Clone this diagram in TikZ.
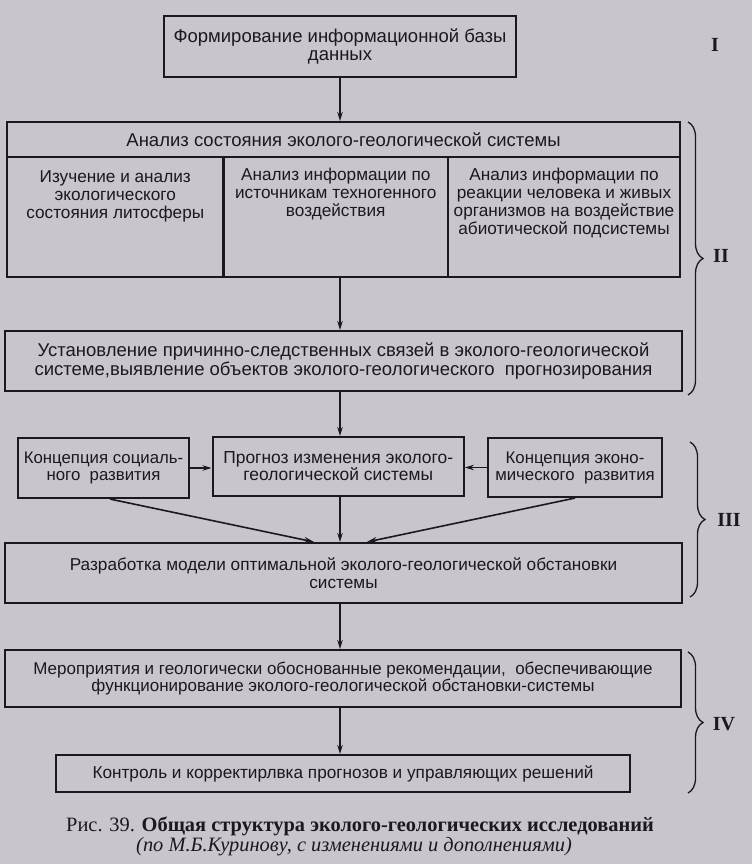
\documentclass[tikz,border=0pt]{standalone}
\usepackage{fontspec}
\setmainfont{Liberation Sans}
\newfontfamily\capfont{Liberation Serif}
\usetikzlibrary{arrows.meta,decorations.pathreplacing,calc}
\definecolor{bg}{RGB}{201,197,205}
\definecolor{ink}{RGB}{28,24,32}
\begin{document}
\begin{tikzpicture}[x=1pt,y=-1pt,
  box/.style={draw=ink,line width=2.1pt,inner sep=0pt,fill=bg},
  txt/.style={align=center,font=\fontsize{18.5}{18.3}\selectfont,text=ink,inner sep=0pt},
  stxt/.style={txt,font=\fontsize{17.2}{17.8}\selectfont},
  ttxt/.style={txt,font=\fontsize{16.8}{17}\selectfont},
  arr/.style={draw=ink,line width=1.2pt,-{Stealth[length=9pt,width=5.5pt]}},
  darr/.style={draw=ink,line width=1.6pt,-{Stealth[length=10pt,width=6pt]}},
  brc/.style={draw=ink,line width=1.3pt,decorate,decoration={brace,amplitude=15pt}},
  roman/.style={font=\capfont\bfseries\fontsize{20}{20}\selectfont,text=ink,inner sep=0pt}]
\fill[bg] (0,0) rectangle (752,864);
\useasboundingbox (0,0) rectangle (752,864);

\node[box,txt,minimum width=352pt,minimum height=61pt] (top) at (340,46.5)
  {Формирование информационной базы\\данных};

\node[box,txt,minimum width=673pt,minimum height=35pt] (title) at (343.5,139.5)
  {Анализ состояния эколого-геологической системы};
\node[box,minimum width=216.5pt,minimum height=120pt] (c1) at (115.25,217) {};
\node[box,minimum width=224.5pt,minimum height=120pt] (c2) at (335.75,217) {};
\node[box,minimum width=232pt,minimum height=120pt] (c3) at (564,217) {};
\node[stxt,anchor=north] (t1) at ([yshift=-15pt]c1.north)
  {Изучение и анализ\\экологического\\состояния литосферы};
\node[stxt,anchor=north] (t2) at ([yshift=-12pt]c2.north)
  {Анализ информации по\\источникам техногенного\\воздействия};
\node[stxt,anchor=north] (t3) at ([yshift=-12pt]c3.north)
  {Анализ информации по\\реакции человека и живых\\организмов на воздействие\\абиотической подсистемы};

\node[box,txt,minimum width=677pt,minimum height=60pt] (estab) at (343.5,361)
  {Установление причинно-следственных связей в эколого-геологической\\системе,выявление объектов эколого-геологического\ \ прогнозирования};

\node[box,ttxt,minimum width=171.7pt,minimum height=60pt] (left) at (103.5,468)
  {Концепция социаль-\\ного\ \ развития};
\node[box,stxt,font=\fontsize{17.4}{17}\selectfont,minimum width=251.3pt,minimum height=59pt] (mid) at (338.2,466.5)
  {Прогноз изменения эколого-\\геологической системы};
\node[box,ttxt,minimum width=174pt,minimum height=59pt] (right) at (575,467.5)
  {Концепция эконо-\\мического\ \ развития};

\node[box,stxt,minimum width=677pt,minimum height=60pt] (model) at (343.5,573)
  {Разработка модели оптимальной эколого-геологической обстановки\\системы};

\node[box,stxt,font=\fontsize{17}{17}\selectfont,minimum width=676pt,minimum height=57pt] (meas) at (343,678.5)
  {Мероприятия и геологически обоснованные рекомендации,\ \ обеспечивающие\\функционирование эколого-геологической обстановки-системы};

\node[box,stxt,minimum width=574pt,minimum height=37pt] (ctrl) at (343,773.5)
  {Контроль и корректирлвка прогнозов и управляющих решений};

% connectors
\draw[arr] (top.south) -- (top.south |- title.north);
\draw[arr] (top.south |- c2.south) -- (top.south |- estab.north);
\draw[arr] (top.south |- estab.south) -- (top.south |- mid.north);
\draw[arr] (left.east) -- (left.east -| mid.west);
\draw[arr] (right.west) -- (right.west -| mid.east);
\draw[darr] ([xshift=6.5pt]left.south) -- ([xshift=-29.5pt]model.north);
\draw[darr] (right.south) -- ([xshift=23.5pt]model.north);
\draw[arr] (top.south |- mid.south) -- (top.south |- model.north);
\draw[arr] (top.south |- model.south) -- (top.south |- meas.north);
\draw[arr] (top.south |- meas.south) -- (top.south |- ctrl.north);

% braces and stage labels
\coordinate (b2a) at (688,122);
\coordinate (b2b) at (688,395);
\coordinate (b3a) at (690,442);
\coordinate (b3b) at (690,597);
\coordinate (b4a) at (688,652);
\coordinate (b4b) at (688,793);
\draw[brc] (b2a) -- (b2b);
\draw[brc] (b3a) -- (b3b);
\draw[brc] (b4a) -- (b4b);
\node[roman] (r1) at (715,45) {I};
\node[roman] (r2) at (721,256) {II};
\node[roman] (r3) at (729,520) {III};
\node[roman] (r4) at (724,724) {IV};

% caption
\node[font=\capfont\fontsize{20.4}{20}\selectfont,text=ink,inner sep=0pt] (cap1) at (360,826)
  {Рис. 39. \textbf{Общая структура эколого-геологических исследований}};
\node[font=\capfont\itshape\fontsize{20.4}{20}\selectfont,text=ink,inner sep=0pt] (cap2) at (354,847)
  {(по М.Б.Куринову, с изменениями и дополнениями)};
\end{tikzpicture}
\end{document}
